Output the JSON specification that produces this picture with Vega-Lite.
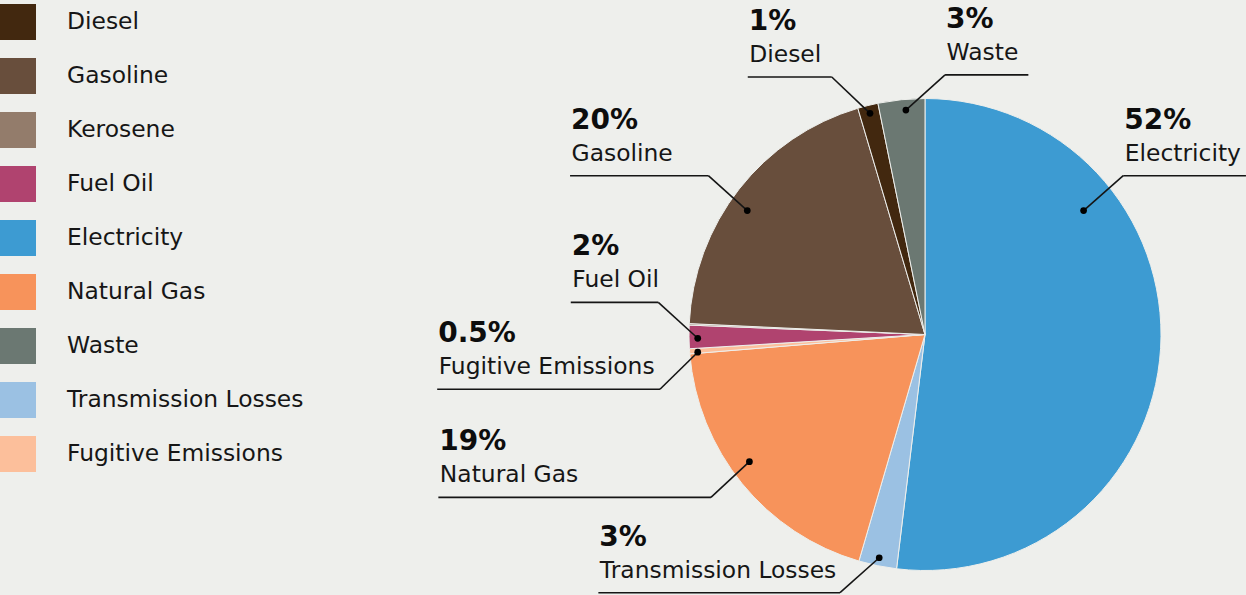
{
  "$schema": "https://vega.github.io/schema/vega-lite/v6.json",
  "width": 1246,
  "height": 595,
  "autosize": "none",
  "padding": 0,
  "background": "#eeefec",
  "config": {"view": {"stroke": null}},
  "datasets": {
    "slices": [
      {"cat": "Electricity", "share": 52.0, "ord": 1},
      {"cat": "Transmission Losses", "share": 2.6, "ord": 2},
      {"cat": "Natural Gas", "share": 19.2, "ord": 3},
      {"cat": "Fugitive Emissions", "share": 0.35, "ord": 4},
      {"cat": "Fuel Oil", "share": 1.6, "ord": 5},
      {"cat": "Kerosene", "share": 0.1, "ord": 6},
      {"cat": "Gasoline", "share": 19.7, "ord": 7},
      {"cat": "Diesel", "share": 1.4, "ord": 8},
      {"cat": "Waste", "share": 3.2, "ord": 9}
    ],
    "labels": [
      {"cat": "Electricity", "pct": "52%", "lx": 84.0, "rx": 136.0, "ex": 84.0, "uy": 67.3, "px": 67.2, "py": 52.5},
      {"cat": "Gasoline", "pct": "20%", "lx": -150.4, "rx": -91.8, "ex": -91.8, "uy": 67.3, "px": -75.3, "py": 52.5},
      {"cat": "Waste", "pct": "3%", "lx": 8.5, "rx": 43.8, "ex": 8.5, "uy": 110.0, "px": -8.1, "py": 95.1},
      {"cat": "Diesel", "pct": "1%", "lx": -75.1, "rx": -39.5, "ex": -39.5, "uy": 109.1, "px": -23.3, "py": 93.7},
      {"cat": "Fuel Oil", "pct": "2%", "lx": -150.1, "rx": -113.0, "ex": -113.0, "uy": 13.6, "px": -96.3, "py": -1.6},
      {"cat": "Fugitive Emissions", "pct": "0.5%", "lx": -206.7, "rx": -112.3, "ex": -112.3, "uy": -23.2, "px": -96.3, "py": -7.5},
      {"cat": "Natural Gas", "pct": "19%", "lx": -206.2, "rx": -90.7, "ex": -90.7, "uy": -69.0, "px": -74.4, "py": -53.9},
      {"cat": "Transmission Losses", "pct": "3%", "lx": -138.4, "rx": -36.0, "ex": -36.0, "uy": -109.4, "px": -19.4, "py": -94.6}
    ]
  },
  "layer": [
    {
      "data": {"name": "slices"},
      "mark": {"type": "arc", "outerRadius": 236, "stroke": "#eeefec", "strokeWidth": 1},
      "encoding": {
        "theta": {"field": "share", "type": "quantitative", "stack": true},
        "order": {"field": "ord", "type": "quantitative"},
        "x": {"datum": 0, "type": "quantitative", "scale": {"domain": [-391.95, 136.02], "nice": false, "zero": false}, "axis": null},
        "y": {"datum": 0, "type": "quantitative", "scale": {"domain": [-110.38, 141.74], "nice": false, "zero": false}, "axis": null},
        "color": {
          "field": "cat",
          "type": "nominal",
          "scale": {
            "domain": ["Diesel", "Gasoline", "Kerosene", "Fuel Oil", "Electricity", "Natural Gas", "Waste", "Transmission Losses", "Fugitive Emissions"],
            "range": ["#42280f", "#684e3c", "#937c6b", "#b0436f", "#3d9bd2", "#f7935b", "#6b7872", "#9bc1e3", "#fcbf9b"]
          },
          "legend": {
            "orient": "none",
            "legendX": 0,
            "legendY": 4,
            "title": null,
            "padding": 0,
            "symbolType": "square",
            "symbolSize": 1296,
            "symbolStrokeWidth": 0,
            "symbolOpacity": 1,
            "labelFont": "DejaVu Sans",
            "labelFontSize": 23.4,
            "labelColor": "#161616",
            "labelOffset": 31,
            "labelLimit": 400,
            "rowPadding": 18
          }
        }
      }
    },
    {
      "data": {"name": "labels"},
      "mark": {"type": "rule", "color": "#151515", "strokeWidth": 1.6},
      "encoding": {
        "x": {"field": "lx", "type": "quantitative"},
        "x2": {"field": "rx"},
        "y": {"field": "uy", "type": "quantitative"},
        "y2": {"field": "uy"}
      }
    },
    {
      "data": {"name": "labels"},
      "mark": {"type": "rule", "color": "#151515", "strokeWidth": 1.6},
      "encoding": {
        "x": {"field": "ex", "type": "quantitative"},
        "x2": {"field": "px"},
        "y": {"field": "uy", "type": "quantitative"},
        "y2": {"field": "py"}
      }
    },
    {
      "data": {"name": "labels"},
      "mark": {"type": "point", "filled": true, "size": 45, "color": "#000000", "opacity": 1},
      "encoding": {
        "x": {"field": "px", "type": "quantitative"},
        "y": {"field": "py", "type": "quantitative"}
      }
    },
    {
      "data": {"name": "labels"},
      "mark": {"type": "text", "align": "left", "baseline": "alphabetic", "dx": 1.5, "dy": -15, "font": "DejaVu Sans", "fontSize": 23.4, "color": "#161616"},
      "encoding": {
        "x": {"field": "lx", "type": "quantitative"},
        "y": {"field": "uy", "type": "quantitative"},
        "text": {"field": "cat"}
      }
    },
    {
      "data": {"name": "labels"},
      "mark": {"type": "text", "align": "left", "baseline": "alphabetic", "dx": 1, "dy": -47, "font": "DejaVu Sans", "fontSize": 28, "fontWeight": "bold", "color": "#0d0d0d"},
      "encoding": {
        "x": {"field": "lx", "type": "quantitative"},
        "y": {"field": "uy", "type": "quantitative"},
        "text": {"field": "pct"}
      }
    }
  ]
}
